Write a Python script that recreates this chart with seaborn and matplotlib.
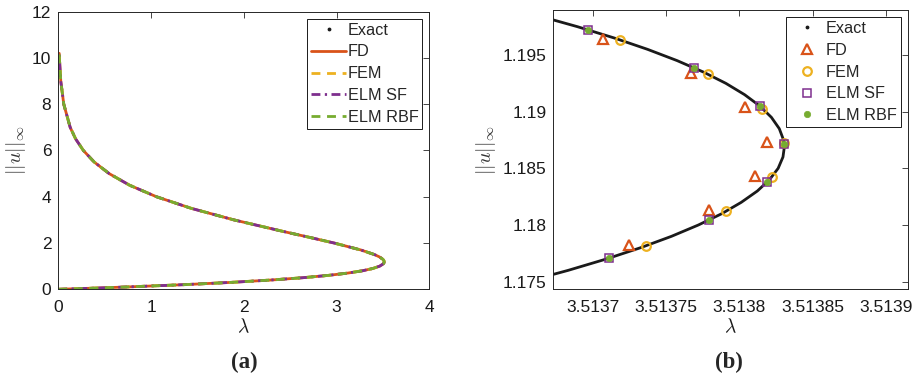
import matplotlib
matplotlib.use("Agg")
import matplotlib.pyplot as plt
import numpy as np
import pandas as pd
import seaborn as sns
from matplotlib.lines import Line2D

# ---------------- data ----------------
methods = ["FD", "FEM", "ELM SF", "ELM RBF"]
method_colors = ["#D95319", "#EDB120", "#7E2F8E", "#77AC30"]

# Panel (a): solution branch ||u||_inf vs lambda (all methods coincide visually)
norm_a = [0.0, 0.02, 0.05, 0.1, 0.2, 0.3, 0.4, 0.5, 0.6, 0.7, 0.8, 0.9, 1.0,
          1.1, 1.15, 1.18684, 1.2, 1.25, 1.3, 1.4, 1.5, 1.7, 2.0, 2.25, 2.5,
          3.0, 3.5, 4.0, 4.5, 5.0, 5.5, 6.0, 6.5, 7.0, 8.0, 9.0, 10.0, 10.2]
lam_a = [0.0, 0.15734, 0.38367, 0.73611, 1.35431, 1.86866, 2.29177, 2.63498,
         2.90804, 3.12011, 3.27888, 3.39174, 3.46493, 3.50397, 3.51221,
         3.51383, 3.51362, 3.50897, 3.49860, 3.46272, 3.40949, 3.26204,
         2.97428, 2.70376, 2.42575, 1.89369, 1.43297, 1.05912, 0.76834,
         0.54904, 0.38737, 0.27038, 0.18697, 0.12825, 0.05911, 0.02663,
         0.01177, 0.00998]

# Panel (b): zoom near the turning point
norm_exact_b = [1.1750, 1.1760, 1.1770, 1.1780, 1.1790, 1.1800, 1.1810,
                1.1820, 1.1830, 1.1840, 1.1850, 1.1860, 1.18684, 1.1875,
                1.1885, 1.1895, 1.1905, 1.1915, 1.1925, 1.1935, 1.1945,
                1.1955, 1.1965, 1.1975, 1.1985, 1.1995]
lam_exact_b = [3.5136545, 3.5136831, 3.5137091, 3.5137326, 3.5137536,
               3.5137720, 3.5137880, 3.5138013, 3.5138123, 3.5138206,
               3.5138265, 3.5138298, 3.5138307, 3.5138302, 3.5138273,
               3.5138219, 3.5138140, 3.5138036, 3.5137908, 3.5137754,
               3.5137576, 3.5137373, 3.5137146, 3.5136894, 3.5136617,
               3.5136316]

fd_lam = [3.5137068, 3.5137668, 3.5138042, 3.5138190, 3.5138106, 3.5137793, 3.5137246]
fd_norm = [1.196412, 1.193382, 1.190382, 1.187353, 1.184324, 1.181294, 1.178265]
fem_lam = [3.5137182, 3.5137787, 3.5138158, 3.5138306, 3.5138220, 3.5137907, 3.5137360]
fem_norm = [1.196324, 1.193294, 1.190265, 1.187265, 1.184235, 1.181206, 1.178147]
elmsf_lam = [3.5136968, 3.5137691, 3.5138138, 3.5138306, 3.5138190, 3.5137791, 3.5137107]
elmsf_norm = [1.197206, 1.193853, 1.190471, 1.187147, 1.183794, 1.180441, 1.177088]
elmrbf_lam = [3.5136968, 3.5137691, 3.5138138, 3.5138306, 3.5138190, 3.5137791, 3.5137107]
elmrbf_norm = [1.197206, 1.193853, 1.190471, 1.187147, 1.183794, 1.180441, 1.177088]

xticks_a = [0, 1, 2, 3, 4]
yticks_a = [0, 2, 4, 6, 8, 10, 12]
xticks_b = [3.5137, 3.51375, 3.5138, 3.51385, 3.5139]
xticklabels_b = ["3.5137", "3.51375", "3.5138", "3.51385", "3.5139"]
yticks_b = [1.175, 1.18, 1.185, 1.19, 1.195]
yticklabels_b = ["1.175", "1.18", "1.185", "1.19", "1.195"]

# ---------------- style ----------------
sns.set_theme(style="white")
plt.rcParams["font.family"] = ["Liberation Sans", "DejaVu Sans"]
plt.rcParams["mathtext.fontset"] = "cm"
AXC = "#262626"

fig = plt.figure(figsize=(9.21, 3.8), dpi=100)
ax1 = fig.add_axes([0.0633, 0.2387, 0.4028, 0.7305])
ax2 = fig.add_axes([0.6008, 0.2387, 0.3848, 0.735])

# ---------------- panel (a) ----------------
df_a = pd.DataFrame({"lam": lam_a, "norm": norm_a})
line_styles = ["-", (0, (3.2, 2.4)), (0, (3.2, 1.6, 0.8, 1.6)), (0, (3.2, 2.4))]
for name, col, ls in zip(methods, method_colors, line_styles):
    sns.lineplot(data=df_a, x="lam", y="norm", sort=False, estimator=None,
                 color=col, linestyle=ls, linewidth=2.0, ax=ax1, label=name)

exact_proxy = Line2D([], [], color="k", marker=".", linestyle="none",
                     markersize=3.5)

# ---------------- panel (b) ----------------
df_exact_b = pd.DataFrame({"lam": lam_exact_b, "norm": norm_exact_b})
sns.lineplot(data=df_exact_b, x="lam", y="norm", sort=False, estimator=None,
             color="k", linewidth=2.0, ax=ax2, legend=False)

marker_specs = [
    (fd_lam, fd_norm, "^", 7.2, "none", method_colors[0], 1.6),
    (fem_lam, fem_norm, "o", 6.2, "none", method_colors[1], 1.6),
    (elmsf_lam, elmsf_norm, "s", 5.8, "none", method_colors[2], 1.1),
    (elmrbf_lam, elmrbf_norm, "o", 4.6, method_colors[3], method_colors[3], 0.5),
]
for (lx, ly, mk, ms, mfc, mec, mew), name in zip(marker_specs, methods):
    d = pd.DataFrame({"lam": lx, "norm": ly})
    sns.lineplot(data=d, x="lam", y="norm", sort=False, estimator=None,
                 linestyle="none", marker=mk, markersize=ms,
                 markerfacecolor=mfc, markeredgecolor=mec,
                 markeredgewidth=mew, ax=ax2, label=name)

# ---------------- axes formatting ----------------
for ax in (ax1, ax2):
    for sp in ax.spines.values():
        sp.set_color(AXC)
        sp.set_linewidth(0.7)
    ax.tick_params(direction="in", top=True, right=True, length=4.0,
                   width=0.6, colors=AXC, labelsize=12.5, labelcolor="k")
    ax.tick_params(axis="x", pad=7.5)
    ax.tick_params(axis="y", pad=5)
    ax.set_xlabel(r"$\lambda$", fontsize=14, labelpad=2, color="k")
    ax.set_ylabel(r"$||u||_{\infty}$", fontsize=14.5, labelpad=3, color="#333333")

ax1.set_xlim(0, 4)
ax1.set_ylim(0, 12)
ax1.set_xticks(xticks_a)
ax1.set_xticklabels([str(v) for v in xticks_a])
ax1.set_yticks(yticks_a)
ax1.set_yticklabels([str(v) for v in yticks_a])

ax2.set_xlim(3.513673, 3.513915)
ax2.set_ylim(1.17433, 1.19897)
ax2.set_xticks(xticks_b)
ax2.set_xticklabels(xticklabels_b)
ax2.set_yticks(yticks_b)
ax2.set_yticklabels(yticklabels_b)

leg_kw = dict(loc="upper right", fontsize=11.7, frameon=True, fancybox=False,
              framealpha=1, edgecolor="k", borderpad=0.25, labelspacing=0.42,
              handlelength=2.1, handletextpad=0.12, borderaxespad=0.42,
              numpoints=1)
for ax in (ax1, ax2):
    h, l = ax.get_legend_handles_labels()
    leg = ax.legend([exact_proxy] + h, ["Exact"] + l, **leg_kw)
    leg.get_frame().set_linewidth(0.7)

fig.text(244 / 921, 1 - 362 / 380, "(a)", ha="center", va="center",
         fontsize=16.5, fontweight="bold", family=["Liberation Serif", "DejaVu Serif"])
fig.text(729 / 921, 1 - 362 / 380, "(b)", ha="center", va="center",
         fontsize=16.5, fontweight="bold", family=["Liberation Serif", "DejaVu Serif"])

fig.savefig("out.png", dpi=100)
